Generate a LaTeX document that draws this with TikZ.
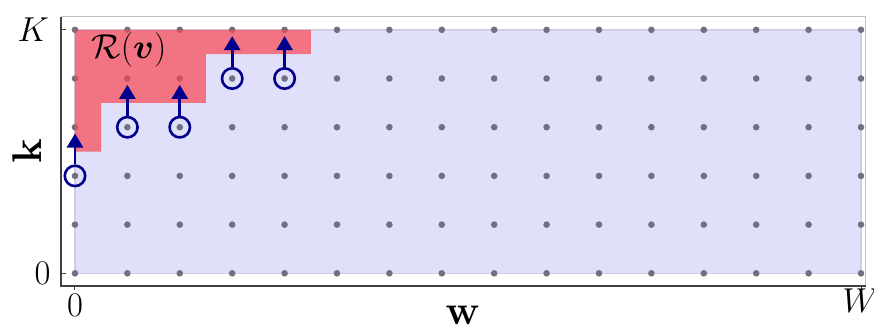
\documentclass[tikz,border=0pt]{standalone}
\usepackage{amsmath,amssymb}
\usepackage{tikz}
\usetikzlibrary{arrows.meta,positioning,calc}
\definecolor{kekhat}{RGB}{224,224,250}
\definecolor{kekszel}{RGB}{206,206,230}
\definecolor{piros}{RGB}{250,70,80}
\definecolor{pontszin}{RGB}{112,112,128}
\definecolor{sotetkek}{RGB}{0,0,140}
\tikzset{
  pont/.style={circle,fill=pontszin,inner sep=0pt,minimum size=3.3pt},
  kor/.style={circle,draw=sotetkek,line width=1.3pt,inner sep=0pt,minimum size=10.2pt},
  nyil/.style={-{Triangle[width=8pt,length=7pt]},line width=1.35pt,draw=sotetkek},
  tengely/.style={draw=black!75,line width=0.8pt},
  keret/.style={draw=black!25,line width=0.5pt},
  cimke/.style={font=\fontsize{18.5}{20}\selectfont,inner sep=1pt},
}

\begin{document}
\begin{tikzpicture}[x=26.2pt,y=24.35pt]
  \useasboundingbox (-1.431,-1.185) rectangle (15.248,5.612);
  % feasible region and lattice
  \fill[kekhat,draw=kekszel,line width=0.8pt] (0,0) rectangle (15,5);
  \foreach \i in {0,...,15}
    \foreach \j in {0,...,5}
      \node[pont] (p-\i-\j) at (\i,\j) {};
  \fill[piros,opacity=0.7] (0,5) -- (4.5,5) -- (4.5,4.5) -- (2.5,4.5) -- (2.5,3.5)
    -- (0.5,3.5) -- (0.5,2.5) -- (0,2.5) -- cycle;
  % frame and ticks
  \draw[keret] (-0.267,5.263) -- (15.09,5.263) -- (15.09,-0.261);
  \draw[tengely] (-0.267,5.263) -- (-0.267,-0.261) -- (15.09,-0.261);
  \foreach \j in {0,5} \draw[tengely,line width=0.5pt] (-0.267,\j) -- ++(0.1,0);
  \foreach \i in {0,15} \draw[tengely,line width=0.5pt] (\i,-0.261) -- ++(0,-0.09);
  % labels
  \node[cimke,anchor=east] (lK) at (-0.45,5) {$K$};
  \node[cimke,anchor=east] (l0) at (-0.42,0) {$0$};
  \node[cimke,anchor=north] (b0) at (0,-0.38) {$0$};
  \node[cimke,anchor=north] (bW) at (15,-0.28) {$W$};
  \node[font=\huge,rotate=90] (ky) at (-0.916,2.51) {$\mathbf{k}$};
  \node[font=\huge,inner sep=0pt,anchor=base] (wx) at (7.4,-1.05) {$\mathbf{w}$};
  \node[cimke] (rv) at (1.03,4.585) {$\mathcal{R}(\boldsymbol{v})$};
  % moves
  \foreach \i/\j [count=\n] in {0/2,1/3,2/3,3/4,4/4} {
    \node[kor] (c\n) at (p-\i-\j) {};
    \coordinate (t\n) at (\i,\j+0.87);
    \draw[nyil] (c\n) -- (t\n);
  }
\end{tikzpicture}
\end{document}
